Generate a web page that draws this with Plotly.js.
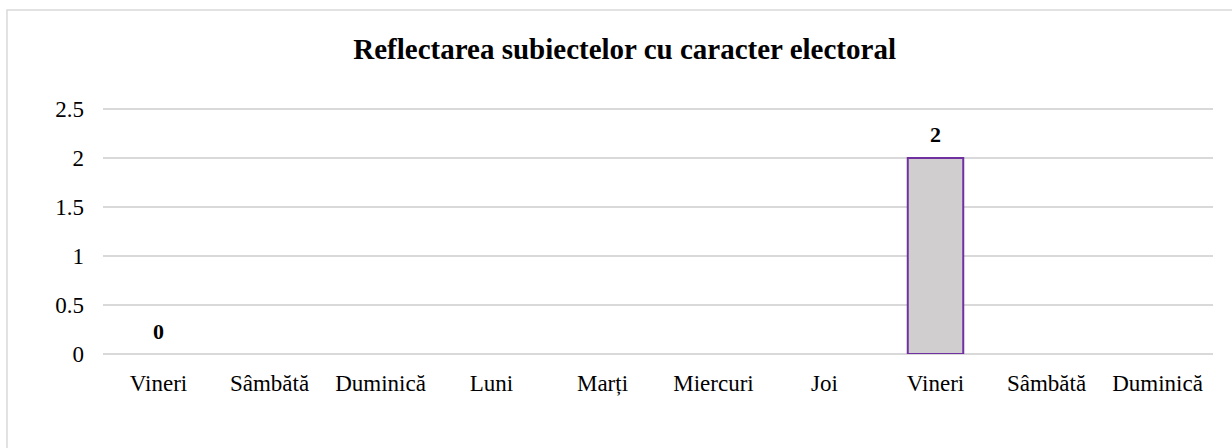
<!DOCTYPE html>
<html>
<head>
<meta charset="utf-8">
<script src="https://cdn.plot.ly/plotly-3.0.1.min.js"></script>
<style>html,body{margin:0;padding:0;background:#fff;}#chart{width:1232px;height:448px;}</style>
</head>
<body>
<div id="chart"></div>
<script>
const categories = ["Vineri", "Sâmbătă", "Duminică", "Luni", "Marți", "Miercuri", "Joi", "Vineri", "Sâmbătă", "Duminică"];
const values = [0, null, null, null, null, null, null, 2, null, null];
const positions = categories.map((_, i) => i);
const yTicks = [0, 0.5, 1, 1.5, 2, 2.5];
const yTickText = ["0", "0.5", "1", "1.5", "2", "2.5"];

const serif = "'Liberation Serif', 'Times New Roman', serif";

const trace = {
  type: "bar",
  x: positions,
  y: values,
  width: 0.5,
  marker: {color: "#D0CECE", line: {color: "#7030A0", width: values.map(v => v ? 2 : 0)}},
  hoverinfo: "none"
};

const annotations = [];
values.forEach((v, i) => {
  if (v === null) return;
  annotations.push({
    x: positions[i], y: v, xref: "x", yref: "y",
    text: "<b>" + v + "</b>", showarrow: false,
    xanchor: "center", yanchor: "middle", yshift: 23,
    font: {family: serif, size: 22, color: "#000"}
  });
});

const layout = {
  width: 1232, height: 448,
  margin: {l: 103, r: 19, t: 104, b: 94},
  paper_bgcolor: "#fff", plot_bgcolor: "#fff",
  showlegend: false,
  title: {text: "<b>Reflectarea subiectelor cu caracter electoral</b>", font: {family: serif, size: 29, color: "#000"}, x: 0.507, xref: "container", xanchor: "center", y: 0.89, yref: "container", yanchor: "middle"},
  xaxis: {
    range: [-0.5, 9.5],
    tickvals: positions, ticktext: categories,
    showgrid: false, zeroline: false, showline: false, ticks: "",
    ticklabelstandoff: 13,
    tickfont: {family: serif, size: 23, color: "#000"},
    fixedrange: true
  },
  yaxis: {
    range: [0, 2.55],
    tickvals: yTicks, ticktext: yTickText,
    showgrid: true, gridcolor: "#D9D9D9", gridwidth: 2,
    zeroline: true, zerolinecolor: "#D9D9D9", zerolinewidth: 2,
    showline: false, ticks: "",
    ticklabelstandoff: 18,
    tickfont: {family: serif, size: 23, color: "#000"},
    fixedrange: true
  },
  annotations: annotations,
  shapes: [{
    type: "rect", xref: "paper", yref: "paper",
    x0: -0.0865, x1: 1.03, y0: -0.5, y1: 1.376,
    line: {color: "#D9D9D9", width: 1.5}, fillcolor: "rgba(0,0,0,0)", layer: "below"
  }]
};

Plotly.newPlot("chart", [trace], layout, {displayModeBar: false, staticPlot: true});
</script>
</body>
</html>
